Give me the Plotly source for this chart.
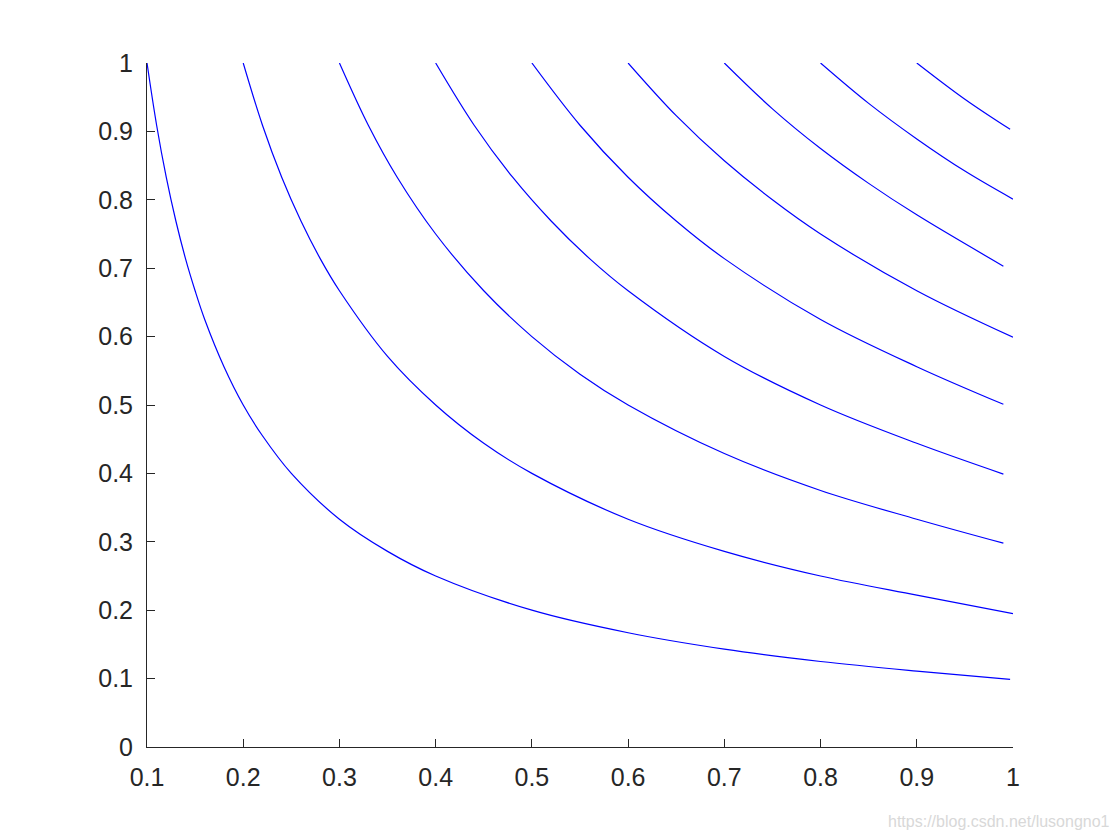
import plotly.graph_objects as go

levels = [0.1, 0.2, 0.3, 0.4, 0.5, 0.6, 0.7, 0.8, 0.9]

curve_x = [
    [0.1, 0.11, 0.12, 0.13, 0.14, 0.15, 0.16, 0.18, 0.2, 0.22, 0.25, 0.3, 0.35, 0.4, 0.5, 0.6, 0.7, 0.8, 0.9, 0.997],
    [0.2, 0.22, 0.24, 0.26, 0.28, 0.3, 0.35, 0.4, 0.45, 0.5, 0.6, 0.7, 0.8, 0.9, 1.0],
    [0.3, 0.33, 0.36, 0.4, 0.45, 0.5, 0.55, 0.6, 0.7, 0.8, 0.9, 0.99],
    [0.4, 0.44, 0.48, 0.52, 0.56, 0.6, 0.7, 0.8, 0.9, 0.99],
    [0.5, 0.55, 0.6, 0.65, 0.7, 0.8, 0.9, 0.99],
    [0.6, 0.65, 0.7, 0.75, 0.8, 0.9, 1.0],
    [0.7, 0.75, 0.8, 0.85, 0.9, 0.99],
    [0.8, 0.85, 0.9, 0.95, 1.0],
    [0.9, 0.95, 0.997],
]
curve_y = [
    [1.0, 0.909, 0.833, 0.769, 0.714, 0.667, 0.625, 0.556, 0.5, 0.455, 0.4, 0.333, 0.286, 0.25, 0.2, 0.167, 0.143, 0.125, 0.111, 0.099],
    [1.0, 0.909, 0.833, 0.769, 0.714, 0.667, 0.571, 0.5, 0.444, 0.4, 0.333, 0.286, 0.25, 0.222, 0.195],
    [1.0, 0.909, 0.833, 0.75, 0.667, 0.6, 0.545, 0.5, 0.429, 0.375, 0.333, 0.298],
    [1.0, 0.909, 0.833, 0.769, 0.714, 0.667, 0.571, 0.5, 0.444, 0.399],
    [1.0, 0.909, 0.833, 0.769, 0.714, 0.625, 0.556, 0.501],
    [1.0, 0.923, 0.857, 0.8, 0.75, 0.667, 0.599],
    [1.0, 0.933, 0.875, 0.824, 0.778, 0.703],
    [1.0, 0.941, 0.889, 0.842, 0.801],
    [1.0, 0.947, 0.903],
]

tick_vals = [0.1, 0.2, 0.3, 0.4, 0.5, 0.6, 0.7, 0.8, 0.9, 1.0]
tick_text = ["0.1", "0.2", "0.3", "0.4", "0.5", "0.6", "0.7", "0.8", "0.9", "1"]
ytick_vals = [0, 0.1, 0.2, 0.3, 0.4, 0.5, 0.6, 0.7, 0.8, 0.9, 1.0]
ytick_text = ["0", "0.1", "0.2", "0.3", "0.4", "0.5", "0.6", "0.7", "0.8", "0.9", "1"]

fig = go.Figure()
for lvl, xs, ys in zip(levels, curve_x, curve_y):
    fig.add_trace(go.Scatter(x=xs, y=ys, mode="lines", name=str(lvl),
                             line=dict(color="#0000ff", width=1.2, shape="spline", smoothing=1.0),
                             cliponaxis=False, hoverinfo="skip"))

axis_common = dict(showline=True, linecolor="#262626", linewidth=1, ticks="inside", ticklen=8,
                   tickcolor="#262626", showgrid=False, zeroline=False, ticklabelstandoff=8,
                   tickfont=dict(family="Liberation Sans, Arial, sans-serif", size=25, color="#262626"))

fig.update_layout(
    width=1112, height=832,
    margin=dict(l=139, r=107, t=55, b=93),
    paper_bgcolor="white", plot_bgcolor="white",
    showlegend=False,
    xaxis=dict(range=[0.1, 1.0], tickvals=tick_vals, ticktext=tick_text, **axis_common),
    yaxis=dict(range=[0, 1.0], tickvals=ytick_vals, ticktext=ytick_text, **axis_common),
    annotations=[dict(text="https://blog.csdn.net/lusongno1", xref="paper", yref="paper",
                      x=1.114, y=-0.1096, xanchor="right", yanchor="middle", showarrow=False,
                      font=dict(family="Liberation Sans, Arial, sans-serif", size=16, color="#d8d8d8"))],
)

fig.write_html("out.html")
